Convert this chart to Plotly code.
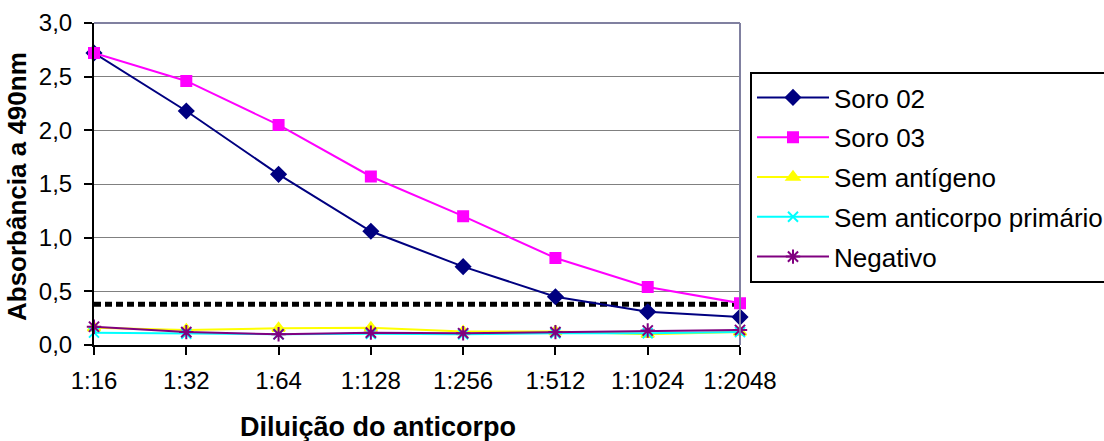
import plotly.graph_objects as go

# Antibody dilutions (x categories)
dilutions = ["1:16", "1:32", "1:64", "1:128", "1:256", "1:512", "1:1024", "1:2048"]

# Absorbance at 490 nm for each sample
soro_02 = [2.72, 2.18, 1.59, 1.06, 0.73, 0.45, 0.31, 0.26]
soro_03 = [2.72, 2.46, 2.05, 1.57, 1.20, 0.81, 0.54, 0.39]
sem_antigeno = [0.16, 0.14, 0.155, 0.16, 0.125, 0.125, 0.10, 0.12]
sem_anticorpo = [0.115, 0.105, 0.10, 0.105, 0.10, 0.11, 0.11, 0.12]
negativo = [0.17, 0.12, 0.10, 0.115, 0.11, 0.12, 0.135, 0.14]

# Cut-off level
cutoff = [0.38] * len(dilutions)

xs = list(range(len(dilutions)))

W, H = 1104, 441
L, R, T, B = 94, 740, 23, 345


def px_x(p):
    return (p - L) / (R - L)


def px_y(p):
    return (B - p) / (B - T)


fig = go.Figure()

fig.add_trace(go.Scatter(
    x=xs, y=cutoff, mode="lines", showlegend=False, hoverinfo="skip",
    line=dict(color="black", width=5, dash="7px,4px"), cliponaxis=False,
))

series = [
    ("Soro 02", soro_02, "#000080", "diamond", 11),
    ("Soro 03", soro_03, "#FF00FF", "square", 10),
    ("Sem antígeno", sem_antigeno, "#FFFF00", "triangle-up", 11),
    ("Sem anticorpo primário", sem_anticorpo, "#00FFFF", "x-thin-open", 10),
    ("Negativo", negativo, "#800080", "asterisk-open", 12),
]

for name, vals, color, symbol, size in series:
    fig.add_trace(go.Scatter(
        x=xs, y=vals, name=name, mode="lines+markers", legendgroup=name,
        line=dict(color=color, width=2),
        marker=dict(symbol=symbol, size=size, color=color,
                    line=dict(color=color, width=2)),
        cliponaxis=False,
    ))

font_family = "Arial, Liberation Sans, sans-serif"
tick_font = dict(family=font_family, size=24, color="black")

fig.update_layout(
    width=W, height=H,
    margin=dict(l=L, r=W - R, t=T, b=H - B, pad=0, autoexpand=False),
    paper_bgcolor="white", plot_bgcolor="white",
    separators=", ",
    font=dict(family=font_family, size=24, color="black"),
    showlegend=True,
    legend=dict(
        x=px_x(750), y=px_y(72), xanchor="left", yanchor="top",
        bgcolor="white", bordercolor="black", borderwidth=2,
        font=dict(family=font_family, size=26, color="black"),
        itemwidth=72, tracegroupgap=3, traceorder="grouped",
    ),
    xaxis=dict(
        range=[0, len(dilutions) - 1], tickvals=xs, ticktext=dilutions,
        tickfont=tick_font, automargin=False,
        showgrid=False, zeroline=False,
        showline=True, linecolor="black", linewidth=2,
        ticks="outside", ticklen=8, tickwidth=2, tickcolor="black",
        ticklabelstandoff=5,
    ),
    yaxis=dict(
        range=[0, 3], dtick=0.5, tickformat=".1f",
        tickfont=tick_font, automargin=False,
        showgrid=True, gridcolor="#808080", gridwidth=1, zeroline=False,
        showline=True, linecolor="black", linewidth=2,
        ticks="outside", ticklen=8, tickwidth=2, tickcolor="black",
        ticklabelstandoff=7,
    ),
    shapes=[
        dict(type="line", xref="paper", yref="paper", x0=0, x1=1, y0=1, y1=1,
             line=dict(color="#8080A0", width=2)),
        dict(type="line", xref="paper", yref="paper", x0=1, x1=1, y0=0, y1=1,
             line=dict(color="#8080A0", width=2)),
    ],
    annotations=[
        dict(text="Absorbância a 490nm", xref="paper", yref="paper",
             x=px_x(17), y=px_y(187), xanchor="center", yanchor="middle",
             textangle=-90, showarrow=False,
             font=dict(family=font_family, size=26, weight="bold")),
        dict(text="Diluição do anticorpo", xref="paper", yref="paper",
             x=px_x(378), y=px_y(427), xanchor="center", yanchor="middle",
             showarrow=False,
             font=dict(family=font_family, size=27, weight="bold")),
    ],
)

fig.write_html("out.html")
